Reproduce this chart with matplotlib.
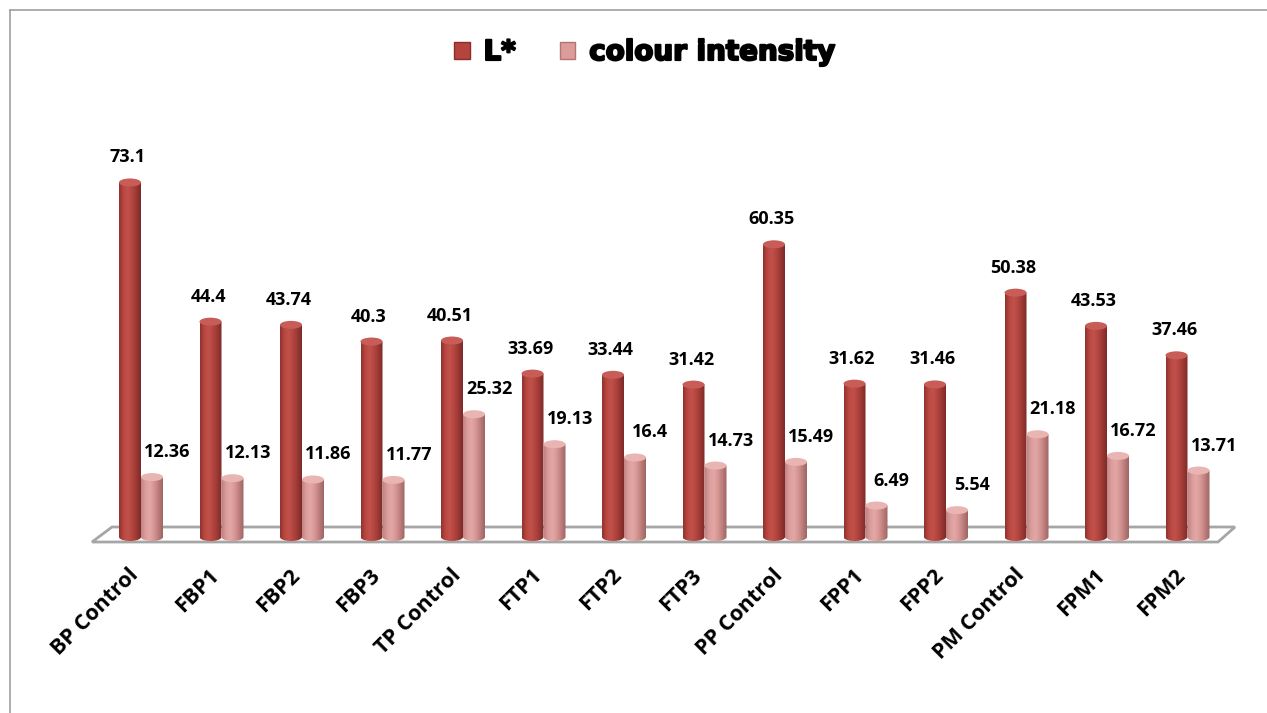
import numpy as np
import matplotlib.pyplot as plt
from matplotlib.patches import Ellipse, Polygon, Patch
from matplotlib.colors import LinearSegmentedColormap
from matplotlib.lines import Line2D
import matplotlib.patheffects as pe

categories = ['BP Control', 'FBP1', 'FBP2', 'FBP3', 'TP Control', 'FTP1', 'FTP2', 'FTP3',
              'PP Control', 'FPP1', 'FPP2', 'PM Control', 'FPM1', 'FPM2']
l_star = [73.1, 44.4, 43.74, 40.3, 40.51, 33.69, 33.44, 31.42, 60.35, 31.62, 31.46, 50.38, 43.53, 37.46]
colour_intensity = [12.36, 12.13, 11.86, 11.77, 25.32, 19.13, 16.4, 14.73, 15.49, 6.49, 5.54, 21.18, 16.72, 13.71]

W, H = 1267, 713
fig = plt.figure(figsize=(W / 100, H / 100), dpi=100)

# axes placed in pixel terms: category 0 at x=141px, 80.5px per category; baseline at y=537px, 4.85px per unit
px_x, x0_px = 80.5, 141
px_y, y0_px = 4.85, 537
left, right, top, bottom = 60, 1255, 120, 560
ax = fig.add_axes([left / W, 1 - bottom / H, (right - left) / W, (bottom - top) / H])
xlim = ((left - x0_px) / px_x, (right - x0_px) / px_x)
ylim = ((y0_px - bottom) / px_y, (y0_px - top) / px_y)


def to_data(px, py):
    return (px - x0_px) / px_x, (y0_px - py) / px_y


# floor
floor = Polygon([to_data(92, 542), to_data(112, 527), to_data(1235, 527), to_data(1218, 542)],
                closed=True, facecolor='white', edgecolor='#A6A6A6', lw=2, zorder=1)
ax.add_patch(floor)

cmap_l = LinearSegmentedColormap.from_list('l', ['#8E3230', '#B9483F', '#C0514C', '#B5463F', '#9A3834', '#7C2A28'])
cmap_c = LinearSegmentedColormap.from_list('c', ['#C28482', '#DC9E9C', '#E2A8A6', '#D69593', '#BC7C7A', '#9C6563'])

bw = 22 / px_x
cap_h = 8 / px_y
grad = np.linspace(0, 1, 100).reshape(1, -1)
t = np.linspace(np.pi, 2 * np.pi, 40)


def cylinder(xc, h, cmap, top_col, z):
    xl, xr = xc - bw / 2, xc + bw / 2
    outline = [(xl, h)] + list(zip(xc + bw / 2 * np.cos(t), cap_h / 2 * np.sin(t))) + [(xr, h)]
    clip = Polygon(outline, closed=True, facecolor='none', edgecolor='none', transform=ax.transData)
    ax.add_patch(clip)
    im = ax.imshow(grad, cmap=cmap, extent=(xl, xr, -cap_h, h),
                   aspect='auto', zorder=z, interpolation='bicubic')
    im.set_clip_path(clip)
    ax.add_patch(Ellipse((xc, h), bw, cap_h, facecolor=top_col, edgecolor='none', zorder=z + 0.01))


x = np.arange(len(categories))
off = 11 / px_x
lab = dict(ha='center', va='center', fontsize=13, fontweight='bold', family='Open Sans', zorder=6,
           textcoords='offset points', xytext=(0, 18))
for i in x:
    cylinder(i - off, l_star[i], cmap_l, '#C85C57', 3)
    cylinder(i + off, colour_intensity[i], cmap_c, '#E9B5B3', 4)
    ax.annotate(f'{l_star[i]:g}', (i - off - 0.03, l_star[i]), **lab)
    ax.annotate(f'{colour_intensity[i]:g}', (i + off + 0.19, colour_intensity[i]), **lab)

ax.set_xlim(*xlim)
ax.set_ylim(*ylim)
ax.axis('off')

# category labels
for i, c in enumerate(categories):
    ax.text(i - 0.16, ylim[0] - 1.0, c, rotation=45, rotation_mode='anchor', ha='right', va='top',
            fontsize=15.5, fontweight='bold', family='Open Sans', clip_on=False)

handles = [Patch(facecolor='#B5443F', edgecolor='#8A2D2A'), Patch(facecolor='#DB9C9A', edgecolor='#B57472')]
leg = fig.legend(handles, ['L*', 'colour intensity'], loc='center', bbox_to_anchor=(0.509, 0.927), ncol=2,
                 frameon=False, prop={'family': 'DejaVu Sans', 'weight': 'bold', 'size': 20},
                 handlelength=0.55, handleheight=0.55, handletextpad=0.5, columnspacing=1.6)
for txt in leg.get_texts():
    txt.set_path_effects([pe.withStroke(linewidth=1.5, foreground='black')])

# chart border
fig.add_artist(Line2D([10 / W, 1], [1 - 10 / H, 1 - 10 / H], color='#A0A0A0', lw=1.2))
fig.add_artist(Line2D([10 / W, 10 / W], [0, 1 - 10 / H], color='#A0A0A0', lw=1.2))

fig.savefig('out.png', dpi=100)
